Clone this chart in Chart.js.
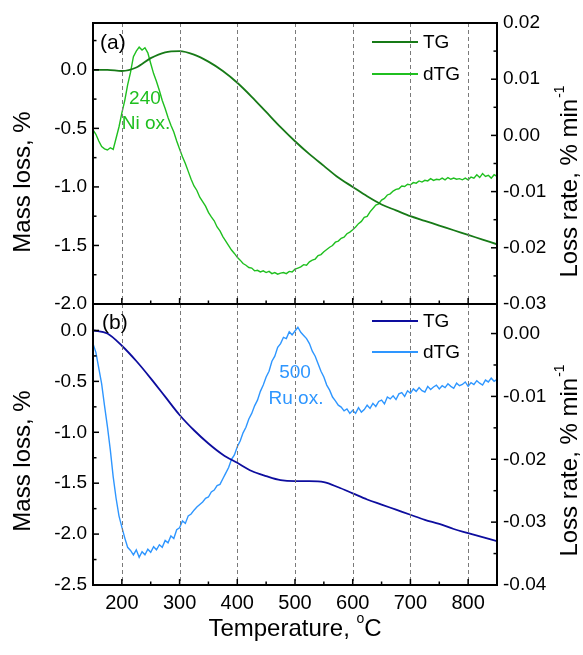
<!DOCTYPE html>
<html><head><meta charset="utf-8">
<script src="https://cdn.jsdelivr.net/npm/chart.js@4.4.1/dist/chart.umd.min.js"></script>
<style>
html,body{margin:0;padding:0;background:#fff;}
#wrap{position:relative;width:583px;height:655px;overflow:hidden;}
canvas{position:absolute;left:0;top:0;}
</style></head><body>
<div id="wrap"><canvas id="ca" width="583" height="655"></canvas><canvas id="cb" width="583" height="655"></canvas></div>
<script>
// ---------- data ----------
const tempsTG = [150,175,200,225,250,275,300,325,350,375,400,425,450,475,500,525,550,575,600,625,650,675,700,725,750,775,800,825,850];
const tgA = [0.00,0.00,-0.01,0.02,0.10,0.15,0.16,0.13,0.07,-0.01,-0.11,-0.23,-0.36,-0.49,-0.61,-0.72,-0.82,-0.92,-1.00,-1.08,-1.15,-1.20,-1.25,-1.29,-1.33,-1.37,-1.41,-1.45,-1.49];
const tgB = [0.00,-0.03,-0.15,-0.30,-0.47,-0.65,-0.83,-0.98,-1.11,-1.22,-1.30,-1.38,-1.43,-1.47,-1.48,-1.48,-1.49,-1.54,-1.60,-1.66,-1.71,-1.76,-1.81,-1.86,-1.90,-1.95,-1.99,-2.03,-2.07];
const tempsDTG = [150,155,160,165,170,175,180,185,190,195,200,205,210,215,220,225,230,235,240,245,250,255,260,265,270,275,280,285,290,295,300,305,310,315,320,325,330,335,340,345,350,355,360,365,370,375,380,385,390,395,400,405,410,415,420,425,430,435,440,445,450,455,460,465,470,475,480,485,490,495,500,505,510,515,520,525,530,535,540,545,550,555,560,565,570,575,580,585,590,595,600,605,610,615,620,625,630,635,640,645,650,655,660,665,670,675,680,685,690,695,700,705,710,715,720,725,730,735,740,745,750,755,760,765,770,775,780,785,790,795,800,805,810,815,820,825,830,835,840,845,850];
const dtgA = [
0.0010,0.0002,-0.0010,-0.0020,-0.0024,-0.0026,-0.0022,-0.0025,-0.0005,0.0015,
0.0040,0.0062,0.0090,0.0112,0.0140,0.0150,0.0157,0.0152,0.0156,0.0147,
0.0128,0.0110,0.0096,0.0080,0.0062,0.0048,0.0032,0.0018,0.0006,-0.0010,
-0.0024,-0.0038,-0.0050,-0.0064,-0.0078,-0.0090,-0.0098,-0.0110,-0.0118,-0.0126,
-0.0137,-0.0145,-0.0152,-0.0163,-0.0170,-0.0180,-0.0188,-0.0196,-0.0204,-0.0210,
-0.0217,-0.0222,-0.0228,-0.0231,-0.0235,-0.0236,-0.0241,-0.0240,-0.0243,-0.0241,
-0.0244,-0.0242,-0.0246,-0.0244,-0.0247,-0.0245,-0.0244,-0.0246,-0.0242,-0.0243,
-0.0238,-0.0236,-0.0234,-0.0230,-0.0231,-0.0225,-0.0222,-0.0220,-0.0214,-0.0212,
-0.0207,-0.0203,-0.0199,-0.0196,-0.0190,-0.0188,-0.0183,-0.0181,-0.0175,-0.0172,
-0.0168,-0.0163,-0.0157,-0.0153,-0.0146,-0.0144,-0.0136,-0.0130,-0.0124,-0.0122,
-0.0115,-0.0112,-0.0106,-0.0104,-0.0099,-0.0096,-0.0095,-0.0090,-0.0091,-0.0087,
-0.0088,-0.0084,-0.0085,-0.0081,-0.0083,-0.0080,-0.0081,-0.0077,-0.0080,-0.0078,
-0.0079,-0.0076,-0.0079,-0.0075,-0.0078,-0.0076,-0.0078,-0.0077,-0.0079,-0.0076,
-0.0079,-0.0074,-0.0076,-0.0070,-0.0075,-0.0068,-0.0073,-0.0071,-0.0076,-0.0070,
-0.0073];
const dtgB = [
-0.0016,-0.0030,-0.0055,-0.0080,-0.0115,-0.0148,-0.0185,-0.0228,-0.0262,-0.0290,
-0.0308,-0.0325,-0.0340,-0.0345,-0.0352,-0.0344,-0.0356,-0.0347,-0.0352,-0.0343,
-0.0348,-0.0339,-0.0344,-0.0336,-0.0340,-0.0329,-0.0333,-0.0322,-0.0326,-0.0312,
-0.0309,-0.0298,-0.0302,-0.0290,-0.0287,-0.0281,-0.0276,-0.0272,-0.0268,-0.0262,
-0.0260,-0.0252,-0.0249,-0.0242,-0.0240,-0.0231,-0.0222,-0.0213,-0.0200,-0.0193,
-0.0180,-0.0171,-0.0158,-0.0149,-0.0136,-0.0127,-0.0115,-0.0106,-0.0092,-0.0082,
-0.0069,-0.0060,-0.0044,-0.0036,-0.0022,-0.0016,-0.0006,-0.0008,0.0003,-0.0002,
0.0004,0.0010,0.0002,-0.0003,-0.0008,-0.0016,-0.0028,-0.0036,-0.0048,-0.0060,
-0.0069,-0.0082,-0.0090,-0.0101,-0.0107,-0.0114,-0.0117,-0.0123,-0.0120,-0.0127,
-0.0122,-0.0127,-0.0118,-0.0125,-0.0121,-0.0114,-0.0119,-0.0111,-0.0116,-0.0108,
-0.0106,-0.0112,-0.0101,-0.0104,-0.0099,-0.0105,-0.0096,-0.0094,-0.0100,-0.0091,
-0.0095,-0.0088,-0.0092,-0.0086,-0.0091,-0.0093,-0.0084,-0.0089,-0.0085,-0.0082,
-0.0088,-0.0083,-0.0086,-0.0080,-0.0084,-0.0087,-0.0079,-0.0083,-0.0081,-0.0077,
-0.0084,-0.0078,-0.0081,-0.0075,-0.0079,-0.0082,-0.0074,-0.0077,-0.0071,-0.0076,
-0.0073];
const xTicks = [200,300,400,500,600,700,800];
const seriesLabels = ['TG','dTG'];

// ---------- drawing helpers ----------
const FONT = '"Liberation Sans", Arial, Helvetica, sans-serif';
Chart.defaults.color = '#000';
Chart.defaults.font.family = FONT;

function pts(xs, ys){ return xs.map((x,i)=>({x:x,y:ys[i]})); }

function drawTicks(ctx, a, scale, step, side){
  const half = step/2;
  const k0 = Math.ceil(scale.min/half - 1e-6), k1 = Math.floor(scale.max/half + 1e-6);
  for(let k=k0;k<=k1;k++){
    const v = k*half;
    const major = (Math.abs(k)%2===0);
    const len = major ? 6 : 3.5;
    const p = scale.getPixelForValue(v);
    ctx.beginPath();
    if(side==='x'){
      if(p<a.left+2||p>a.right-2) continue;
      ctx.moveTo(p, a.bottom); ctx.lineTo(p, a.bottom-len);
    } else {
      if(p<a.top+2||p>a.bottom-2) continue;
      if(side==='l'){ ctx.moveTo(a.left,p); ctx.lineTo(a.left+len,p); }
      else { ctx.moveTo(a.right,p); ctx.lineTo(a.right-len,p); }
    }
    ctx.stroke();
  }
}

function rotText(ctx, x, y, main, sup, size){
  ctx.save();
  ctx.translate(x,y); ctx.rotate(-Math.PI/2);
  ctx.font = size+'px '+FONT;
  const w1 = ctx.measureText(main).width;
  let w2 = 0;
  const ss = Math.round(size*0.6);
  if(sup){ ctx.font = ss+'px '+FONT; w2 = ctx.measureText(sup).width; }
  const start = -(w1+w2)/2;
  ctx.textBaseline='middle'; ctx.textAlign='left';
  ctx.font = size+'px '+FONT;
  ctx.fillText(main, start, 0);
  if(sup){ ctx.font = ss+'px '+FONT; ctx.fillText(sup, start+w1+1, -size*0.42); }
  ctx.restore();
}

function panelPlugin(cfg){
  return {
    id:'panel_'+cfg.name,
    afterDatasetsDraw(chart){
      const ctx = chart.ctx, a = chart.chartArea, sc = chart.scales;
      ctx.save();
      // dashed vertical grid
      ctx.strokeStyle='#7a7a7a'; ctx.lineWidth=1; ctx.setLineDash([4,3]);
      xTicks.forEach(t=>{
        const px = Math.round(sc.x.getPixelForValue(t))+0.5;
        ctx.beginPath(); ctx.moveTo(px,a.top); ctx.lineTo(px,a.bottom); ctx.stroke();
      });
      ctx.setLineDash([]);
      // frame
      ctx.strokeStyle='#000'; ctx.lineWidth=2;
      ctx.strokeRect(a.left,a.top,a.right-a.left,a.bottom-a.top);
      ctx.lineWidth=1.5;
      drawTicks(ctx,a,sc.x,100,'x');
      drawTicks(ctx,a,sc.y,cfg.yStep,'l');
      drawTicks(ctx,a,sc.y1,cfg.y1Step,'r');
      // legend
      chart.data.datasets.forEach((ds,i)=>{
        const ly = cfg.legendY[i];
        ctx.strokeStyle = ds.borderColor; ctx.lineWidth = 2;
        ctx.beginPath(); ctx.moveTo(372,ly); ctx.lineTo(418,ly); ctx.stroke();
        ctx.fillStyle='#000'; ctx.font='19px '+FONT; ctx.textBaseline='middle'; ctx.textAlign='left';
        ctx.fillText(ds.label, 423, ly+1);
      });
      // panel letter
      ctx.fillStyle='#000'; ctx.font='21px '+FONT; ctx.textBaseline='middle'; ctx.textAlign='left';
      ctx.fillText(cfg.letter, cfg.letterX, cfg.letterY);
      // annotation
      ctx.fillStyle = cfg.noteColor; ctx.font='19px '+FONT; ctx.textAlign='center'; ctx.textBaseline='middle';
      const nx = sc.x.getPixelForValue(cfg.noteT);
      ctx.fillText(cfg.note1, nx, sc.y1.getPixelForValue(cfg.noteV1));
      ctx.fillText(cfg.note2, nx+1, sc.y1.getPixelForValue(cfg.noteV2));
      // axis titles
      ctx.fillStyle='#000';
      rotText(ctx, 23, cfg.titleY, 'Mass loss, %', null, 24);
      rotText(ctx, 570, cfg.titleY, 'Loss rate, % min', '-1', 24);
      if(cfg.xTitle){
        ctx.font='24px '+FONT; ctx.textBaseline='middle'; ctx.textAlign='left';
        const m='Temperature, ', c='C';
        const w1=ctx.measureText(m).width, w3=ctx.measureText(c).width;
        ctx.font='14px '+FONT; const w2=ctx.measureText('o').width;
        const cx=(a.left+a.right)/2, tot=w1+w2+w3, sx=cx-tot/2, ty=629;
        ctx.font='24px '+FONT; ctx.fillText(m,sx,ty);
        ctx.font='14px '+FONT; ctx.fillText('o',sx+w1,ty-10);
        ctx.font='24px '+FONT; ctx.fillText(c,sx+w1+w2,ty);
      }
      ctx.restore();
    }
  };
}

function makeChart(id, cfg){
  return new Chart(document.getElementById(id), {
    type:'line',
    data:{datasets:[
      {label:seriesLabels[0], data:pts(tempsTG,cfg.tg), yAxisID:'y', borderColor:cfg.c1, borderWidth:1.8, pointRadius:0, cubicInterpolationMode:'monotone', fill:false},
      {label:seriesLabels[1], data:pts(tempsDTG,cfg.dtg), yAxisID:'y1', borderColor:cfg.c2, borderWidth:1.4, pointRadius:0, tension:0, fill:false}
    ]},
    options:{
      responsive:false, devicePixelRatio:1, animation:false,
      plugins:{legend:{display:false}, tooltip:{enabled:false}},
      layout:{padding:{left:0,right:0,top:cfg.padTop,bottom:cfg.padBottom}},
      scales:{
        x:{type:'linear', min:150, max:850, position:'bottom',
           afterBuildTicks:s=>{ s.ticks = xTicks.map(v=>({value:v})); },
           ticks:{display:cfg.xLabels, padding:6, font:{size:20}, maxRotation:0, autoSkip:false, callback:v=>String(v)},
           grid:{display:false, drawTicks:false}, border:{display:false},
           afterFit:s=>{s.height=cfg.xHeight;}},
        y:{type:'linear', position:'left', min:cfg.yMin, max:cfg.yMax,
           ticks:{stepSize:cfg.yStep, includeBounds:false, padding:6, font:{size:19}, callback:v=>Number(v).toFixed(1)},
           grid:{display:false, drawTicks:false}, border:{display:false},
           afterFit:s=>{s.width=93;}},
        y1:{type:'linear', position:'right', min:cfg.y1Min, max:cfg.y1Max,
           ticks:{stepSize:cfg.y1Step, includeBounds:false, padding:6, font:{size:19}, callback:v=>Number(v).toFixed(2)},
           grid:{display:false, drawTicks:false}, border:{display:false},
           afterFit:s=>{s.width=86;}}
      }
    },
    plugins:[panelPlugin(cfg)]
  });
}

makeChart('ca', {name:'a', tg:tgA, dtg:dtgA, c1:'#177a17', c2:'#1fbf1f',
  padTop:23, padBottom:351, xHeight:0, xLabels:false,
  yMin:-2.0, yMax:0.4, yStep:0.5, y1Min:-0.03, y1Max:0.02, y1Step:0.01,
  legendY:[42,74], letter:'(a)', letterX:100, letterY:43,
  noteColor:'#1fbf1f', noteT:240, noteV1:0.0066, noteV2:0.0021, note1:'240', note2:'Ni ox.',
  titleY:182, xTitle:false});

makeChart('cb', {name:'b', tg:tgB, dtg:dtgB, c1:'#0d0d9e', c2:'#2e96ff',
  padTop:304, padBottom:0, xHeight:70, xLabels:true,
  yMin:-2.5, yMax:0.26, yStep:0.5, y1Min:-0.04, y1Max:0.0047, y1Step:0.01,
  legendY:[321,352], letter:'(b)', letterX:102, letterY:323,
  noteColor:'#2e96ff', noteT:500, noteV1:-0.0063, noteV2:-0.0103, note1:'500', note2:'Ru ox.',
  titleY:461, xTitle:true});
</script>
</body></html>
